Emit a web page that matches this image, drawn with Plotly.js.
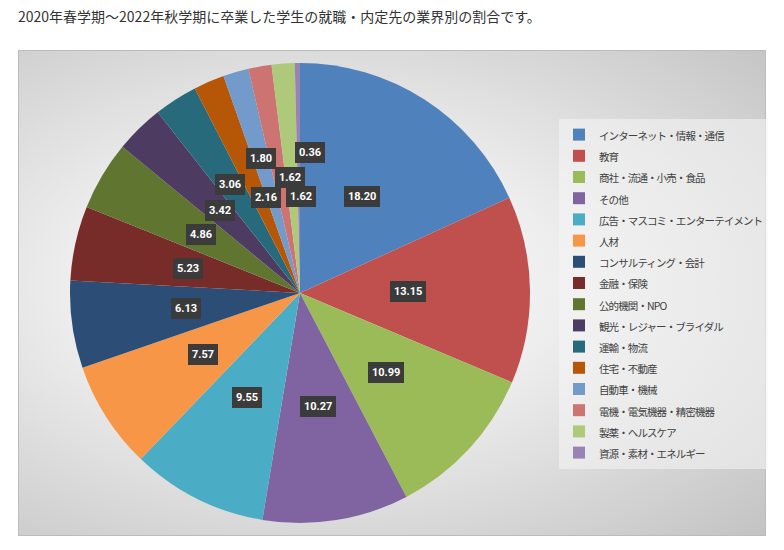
<!DOCTYPE html>
<html>
<head>
<meta charset="utf-8">
<script src="https://cdn.plot.ly/plotly-3.0.1.min.js"></script>
<style>
  html, body { margin: 0; padding: 0; background: #ffffff; }
  #wrap { position: relative; width: 784px; height: 550px; }
  #panel {
    position: absolute; left: 18px; top: 50px; width: 748px; height: 486px;
    border: 1px solid #bcbcbc; box-sizing: border-box;
    background: radial-gradient(ellipse farthest-corner at 40% 48%, #fefefe 0%, #eeeeee 38%, #c3c3c3 100%);
  }
  #chart { position: absolute; left: 0; top: 0; width: 784px; height: 550px; }
</style>
</head>
<body>
<div id="wrap">
  <div id="panel"></div>
  <div id="chart"></div>
</div>
<script>
// ---- data ----
const categories = [
  "インターネット・情報・通信", "教育", "商社・流通・小売・食品", "その他",
  "広告・マスコミ・エンターテイメント", "人材", "コンサルティング・会計", "金融・保険",
  "公的機関・NPO", "観光・レジャー・ブライダル", "運輸・物流", "住宅・不動産",
  "自動車・機械", "電機・電気機器・精密機器", "製薬・ヘルスケア", "資源・素材・エネルギー"
];
const shares = [18.20, 13.15, 10.99, 10.27, 9.55, 7.57, 6.13, 5.23, 4.86, 3.42, 3.06, 2.16, 1.80, 1.62, 1.62, 0.36];
const valueLabels = ["18.20","13.15","10.99","10.27","9.55","7.57","6.13","5.23","4.86","3.42","3.06","2.16","1.80","1.62","1.62","0.36"];
const titleText = "2020年春学期〜2022年秋学期に卒業した学生の就職・内定先の業界別の割合です。";

// ---- styles ----
const colors = ["#4F81BD","#C0504D","#9BBB59","#8064A2","#4BACC6","#F79646","#2C4D75","#772C2A",
                "#5F7530","#4D3B62","#276A7C","#B65708","#729ACA","#CD7371","#AFC97A","#9983B5"];
// label placement: fraction of radius along slice mid-angle, plus small pixel nudges
const labelRadius = [0.50,0.47,0.51,0.50,0.51,0.50,0.50,0.50,0.50,0.50,0.56,0.45,0.61,0.51,0.42,0.61];
const labelNudgeX = [0,0,0,0,0,0,0,0,0,0,0,7,0,10,8,12];

const W = 784, H = 550;
const pieDomain = { x: [70 / W, 530 / W], y: [(H - 523) / H, (H - 63) / H] };

const total = shares.reduce((a, b) => a + b, 0);
const cx = (pieDomain.x[0] + pieDomain.x[1]) / 2;
const cy = (pieDomain.y[0] + pieDomain.y[1]) / 2;
const R = Math.min((pieDomain.x[1] - pieDomain.x[0]) * W, (pieDomain.y[1] - pieDomain.y[0]) * H) / 2;

const annotations = [];
let cum = 0;
shares.forEach((v, i) => {
  const theta = (cum + v / 2) / total * 2 * Math.PI;
  cum += v;
  const r = labelRadius[i] * R;
  annotations.push({
    xref: 'paper', yref: 'paper',
    x: cx + Math.sin(theta) * r / W,
    y: cy + Math.cos(theta) * r / H,
    xanchor: 'center', yanchor: 'middle',
    xshift: labelNudgeX[i],
    text: valueLabels[i],
    showarrow: false,
    bgcolor: '#3b3b3b',
    borderpad: 4,
    borderwidth: 0,
    font: { family: 'Roboto, "Liberation Sans", sans-serif', size: 11, color: '#ffffff', weight: 'bold' }
  });
});

const legendSpan = c => '<span style="font-size:10.5px;letter-spacing:-0.9px">' + c + '</span>';

const trace = {
  type: 'pie',
  labels: categories.map(legendSpan),
  values: shares,
  sort: false,
  direction: 'clockwise',
  rotation: 0,
  textinfo: 'none',
  hoverinfo: 'label+value',
  domain: pieDomain,
  marker: { colors: colors, line: { width: 0 } }
};

const layout = {
  width: W, height: H,
  margin: { l: 0, r: 0, t: 0, b: 0, autoexpand: false },
  paper_bgcolor: 'rgba(0,0,0,0)',
  plot_bgcolor: 'rgba(0,0,0,0)',
  title: {
    text: titleText,
    x: 18 / W, xref: 'paper', xanchor: 'left',
    y: 1 - 17 / H, yref: 'container', yanchor: 'middle',
    font: { family: '"Noto Sans CJK JP", sans-serif', size: 14, color: '#333333' }
  },
  showlegend: true,
  legend: {
    x: 559 / W, xanchor: 'left',
    y: 1 - 119 / H, yanchor: 'top',
    bgcolor: 'rgba(246,246,246,0.55)',
    font: { family: '"Noto Sans CJK JP", sans-serif', size: 14, color: '#404040' },
    itemwidth: 30,
    traceorder: 'normal'
  },
  annotations: annotations
};

Plotly.newPlot('chart', [trace], layout, { displayModeBar: false, staticPlot: true });
</script>
</body>
</html>
